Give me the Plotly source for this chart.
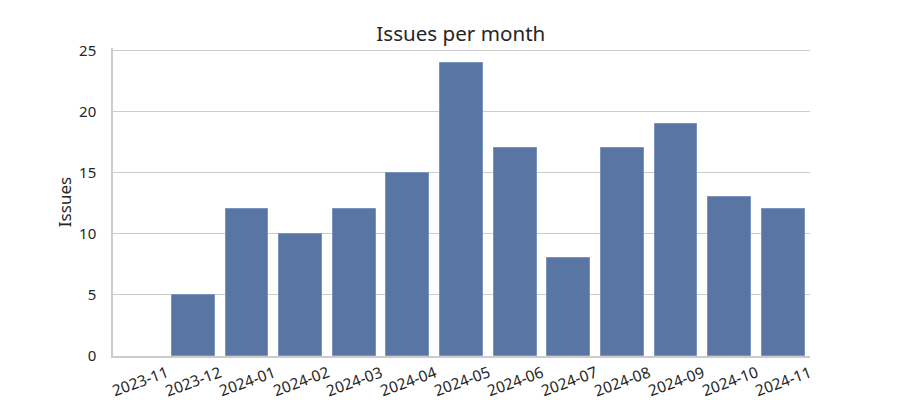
import plotly.graph_objects as go

months = ["2023-11", "2023-12", "2024-01", "2024-02", "2024-03", "2024-04", "2024-05",
          "2024-06", "2024-07", "2024-08", "2024-09", "2024-10", "2024-11"]
issues = [0, 5, 12, 10, 12, 15, 24, 17, 8, 17, 19, 13, 12]
y_ticks = [0, 5, 10, 15, 20, 25]

font = "Noto Sans"
fig = go.Figure()
fig.add_trace(go.Bar(
    x=list(range(len(months))), y=issues, width=0.8,
    marker=dict(color="#5875a4",
                line=dict(color="#7a93bb", width=[0 if v == 0 else 1 for v in issues])),
))

for i, m in enumerate(months):
    fig.add_annotation(x=i, y=0, xref="x", yref="paper", text=m, showarrow=False,
                       textangle=-20, yshift=-25, xanchor="center", yanchor="middle",
                       font=dict(family=font, size=15.5, color="#262626"))

fig.update_layout(
    width=900, height=400, margin=dict(l=113, r=90, t=48, b=44),
    plot_bgcolor="white", paper_bgcolor="white",
    showlegend=False, bargap=0,
    title=dict(text="Issues per month", x=0.512, xanchor="center", y=0.915, yanchor="middle",
               font=dict(family=font, size=20.6, color="#262626")),
    font=dict(family=font, size=15, color="#262626"),
)
fig.update_xaxes(range=[-0.5, len(months) - 0.5], showticklabels=False, showgrid=False,
                 showline=True, linecolor="#cccccc", linewidth=1.5, ticks="", zeroline=False)
fig.update_yaxes(range=[0, 25.2], tickvals=y_ticks, showgrid=True, gridcolor="#cccccc",
                 gridwidth=1, showline=True, linecolor="#cccccc", linewidth=1.5, ticks="",
                 zeroline=False, ticklabelstandoff=12,
                 title=dict(text="Issues", font=dict(family=font, size=17, color="#262626"), standoff=3),
                 tickfont=dict(family=font, size=15, color="#262626"))

fig.write_html("out.html")
